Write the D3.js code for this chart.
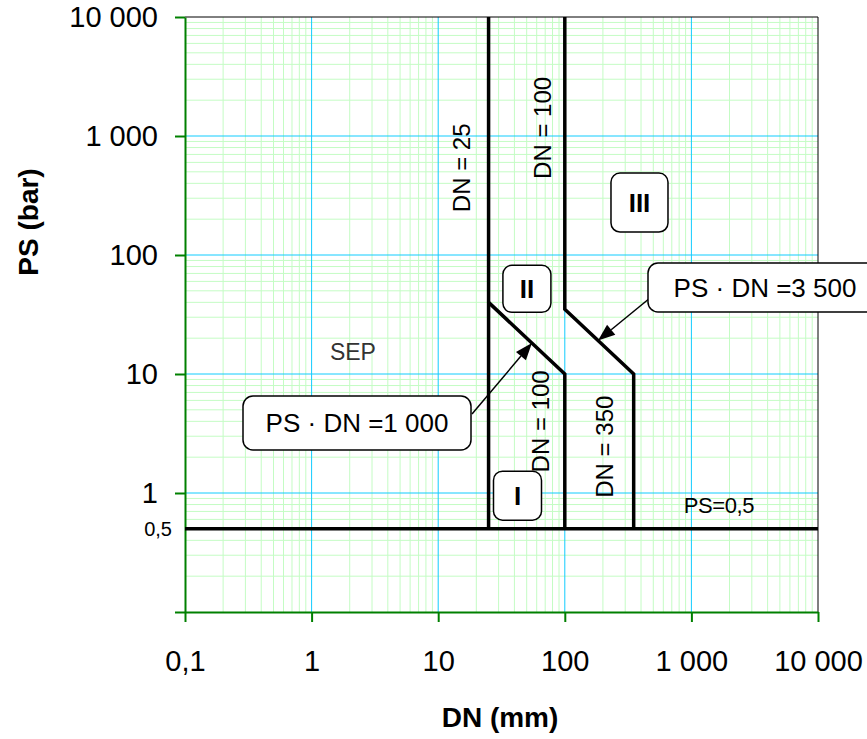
<!DOCTYPE html>
<html>
<head>
<meta charset="utf-8">
<script src="https://cdn.jsdelivr.net/npm/d3@7"></script>
<style>
  body { margin: 0; background: #fff; }
  svg { display: block; font-family: "Liberation Sans", Arial, sans-serif; }
</style>
</head>
<body>
<script>
// Axis ticks
const xTickValues = [0.1, 1, 10, 100, 1000, 10000];
const xTickLabels = ["0,1", "1", "10", "100", "1 000", "10 000"];
const yTickValues = [0.1, 1, 10, 100, 1000, 10000];
const yTickLabels = ["", "1", "10", "100", "1 000", "10 000"];

// Boundary lines, [DN, PS] points
const linePs05 = [[0.1, 0.5], [10000, 0.5]];
const lineDn25 = [[25, 0.5], [25, 10000]];
const linePs1000 = [[25, 40], [100, 10], [100, 0.5]];
const linePs3500 = [[100, 10000], [100, 35], [350, 10], [350, 0.5]];

// Rotated DN labels: text, DN, PS at label centre
const dnLabels = [
  { text: "DN = 25", dn: 25, ps: 540, dx: -27 },
  { text: "DN = 100", dn: 100, ps: 1170, dx: -22 },
  { text: "DN = 100", dn: 100, ps: 4, dx: -24 },
  { text: "DN = 350", dn: 350, ps: 2.45, dx: -29 }
];

// Category boxes (centre in DN, PS)
const categories = [
  { text: "I", dn: 42.3, ps: 0.95, w: 48, h: 49 },
  { text: "II", dn: 50.2, ps: 52, w: 48, h: 47 },
  { text: "III", dn: 389, ps: 276, w: 57, h: 59 }
];

const width = 867;
const height = 739;

const x = d3.scaleLog().domain([0.1, 10000]).range([185, 818]);
const y = d3.scaleLog().domain([0.1, 10000]).range([612, 17]);

const svg = d3.select("body")
  .append("svg")
  .attr("width", width)
  .attr("height", height);

// minor grid values 2..9 per decade
const minor = [];
[0.1, 1, 10, 100, 1000].forEach(d => {
  for (let k = 2; k <= 9; k++) minor.push(d * k);
});
const major = [1, 10, 100, 1000];

const grid = svg.append("g");
grid.selectAll(".mx").data(minor).join("line")
  .attr("x1", d => x(d)).attr("x2", d => x(d))
  .attr("y1", y(0.1)).attr("y2", y(10000))
  .attr("stroke", "#c4fcc4").attr("stroke-width", 1);
grid.selectAll(".my").data(minor).join("line")
  .attr("y1", d => y(d)).attr("y2", d => y(d))
  .attr("x1", x(0.1)).attr("x2", x(10000))
  .attr("stroke", "#c4fcc4").attr("stroke-width", 1);
grid.selectAll(".Mx").data(major).join("line")
  .attr("x1", d => x(d)).attr("x2", d => x(d))
  .attr("y1", y(0.1)).attr("y2", y(10000))
  .attr("stroke", "#11ccff").attr("stroke-width", 1);
grid.selectAll(".My").data(major).join("line")
  .attr("y1", d => y(d)).attr("y2", d => y(d))
  .attr("x1", x(0.1)).attr("x2", x(10000))
  .attr("stroke", "#11ccff").attr("stroke-width", 1);

// top and right border
svg.append("path")
  .attr("d", `M${x(0.1)},${y(10000)}H${x(10000)}V${y(0.1)}`)
  .attr("fill", "none").attr("stroke", "#000").attr("stroke-width", 1);

// axes
const xAxis = svg.append("g")
  .attr("transform", `translate(0,${y(0.1)})`)
  .call(d3.axisBottom(x).tickValues(xTickValues)
    .tickFormat((d, i) => xTickLabels[i]).tickSize(10).tickSizeOuter(0).tickPadding(28));
const yAxis = svg.append("g")
  .attr("transform", `translate(${x(0.1)},0)`)
  .call(d3.axisLeft(y).tickValues(yTickValues)
    .tickFormat((d, i) => yTickLabels[i]).tickSize(10).tickSizeOuter(0).tickPadding(17));
[xAxis, yAxis].forEach(a => {
  a.select(".domain").attr("stroke", "#008000").attr("stroke-width", 2);
  a.selectAll(".tick line").attr("stroke", "#008000").attr("stroke-width", 2);
  a.selectAll(".tick text")
    .attr("font-family", "'Liberation Sans', Arial, sans-serif")
    .attr("font-size", 29).attr("fill", "#000");
});

svg.append("text")
  .attr("x", x(0.1) - 13).attr("y", y(0.5)).attr("dy", "0.35em")
  .attr("text-anchor", "end").attr("font-size", 20)
  .text("0,5");

// boundary lines
const line = d3.line().x(d => x(d[0])).y(d => y(d[1]));
svg.append("g")
  .attr("fill", "none").attr("stroke", "#000").attr("stroke-width", 3.5)
  .attr("stroke-linejoin", "miter")
  .selectAll("path")
  .data([linePs05, lineDn25, linePs1000, linePs3500])
  .join("path")
  .attr("d", line);

// rotated DN labels
svg.append("g")
  .selectAll("text")
  .data(dnLabels)
  .join("text")
  .attr("transform", d => `translate(${x(d.dn) + d.dx},${y(d.ps)}) rotate(-90)`)
  .attr("text-anchor", "middle").attr("dy", "0.35em")
  .attr("font-size", 24)
  .text(d => d.text);

// category boxes
const cat = svg.append("g")
  .selectAll("g")
  .data(categories)
  .join("g")
  .attr("transform", d => `translate(${x(d.dn)},${y(d.ps)})`);
cat.append("rect")
  .attr("x", d => -d.w / 2).attr("y", d => -d.h / 2)
  .attr("width", d => d.w).attr("height", d => d.h)
  .attr("rx", 9).attr("fill", "#fff").attr("stroke", "#000").attr("stroke-width", 1.5);
cat.append("text")
  .attr("text-anchor", "middle").attr("dy", "0.36em")
  .attr("font-size", 26).attr("font-weight", "bold")
  .text(d => d.text);

// SEP and PS=0,5
svg.append("text")
  .attr("x", x(2.12)).attr("y", y(13.1))
  .attr("text-anchor", "middle").attr("font-size", 23).attr("fill", "#333")
  .text("SEP");
svg.append("text")
  .attr("x", x(870)).attr("y", y(0.68))
  .attr("font-size", 22).attr("letter-spacing", -0.4)
  .text("PS=0,5");

// callouts
const callouts = [
  { text: "PS · DN =1 000", product: 1000, tipDn: 55, box: [243, 396, 228, 54], tail: [472, 414], cx: 357 },
  { text: "PS · DN =3 500", product: 3500, tipDn: 183, box: [648, 263, 240, 49], tail: [650, 298], cx: 765 }
];
callouts.forEach(c => {
  const tx = x(c.tipDn), ty = y(c.product / c.tipDn);
  const [sx, sy] = c.tail;
  const ang = Math.atan2(ty - sy, tx - sx);
  const L = 17, W = 6.5;
  const bx = tx - L * Math.cos(ang), by = ty - L * Math.sin(ang);
  svg.append("line")
    .attr("x1", sx).attr("y1", sy).attr("x2", bx).attr("y2", by)
    .attr("stroke", "#000").attr("stroke-width", 1.5);
  svg.append("path")
    .attr("d", `M${tx},${ty}L${bx + W * Math.sin(ang)},${by - W * Math.cos(ang)}L${bx - W * Math.sin(ang)},${by + W * Math.cos(ang)}Z`)
    .attr("fill", "#000");
  const [rx, ry, rw, rh] = c.box;
  svg.append("rect")
    .attr("x", rx).attr("y", ry).attr("width", rw).attr("height", rh)
    .attr("rx", 10).attr("fill", "#fff").attr("stroke", "#000").attr("stroke-width", 1.5);
  svg.append("text")
    .attr("x", c.cx).attr("y", ry + rh / 2).attr("dy", "0.36em")
    .attr("text-anchor", "middle").attr("font-size", 26)
    .text(c.text);
});

// axis titles
svg.append("text")
  .attr("transform", `translate(28,222) rotate(-90)`)
  .attr("text-anchor", "middle").attr("dy", "0.35em")
  .attr("font-size", 28).attr("font-weight", "bold")
  .text("PS (bar)");
svg.append("text")
  .attr("x", 500).attr("y", 727)
  .attr("text-anchor", "middle")
  .attr("font-size", 28).attr("font-weight", "bold")
  .text("DN (mm)");
</script>
</body>
</html>
